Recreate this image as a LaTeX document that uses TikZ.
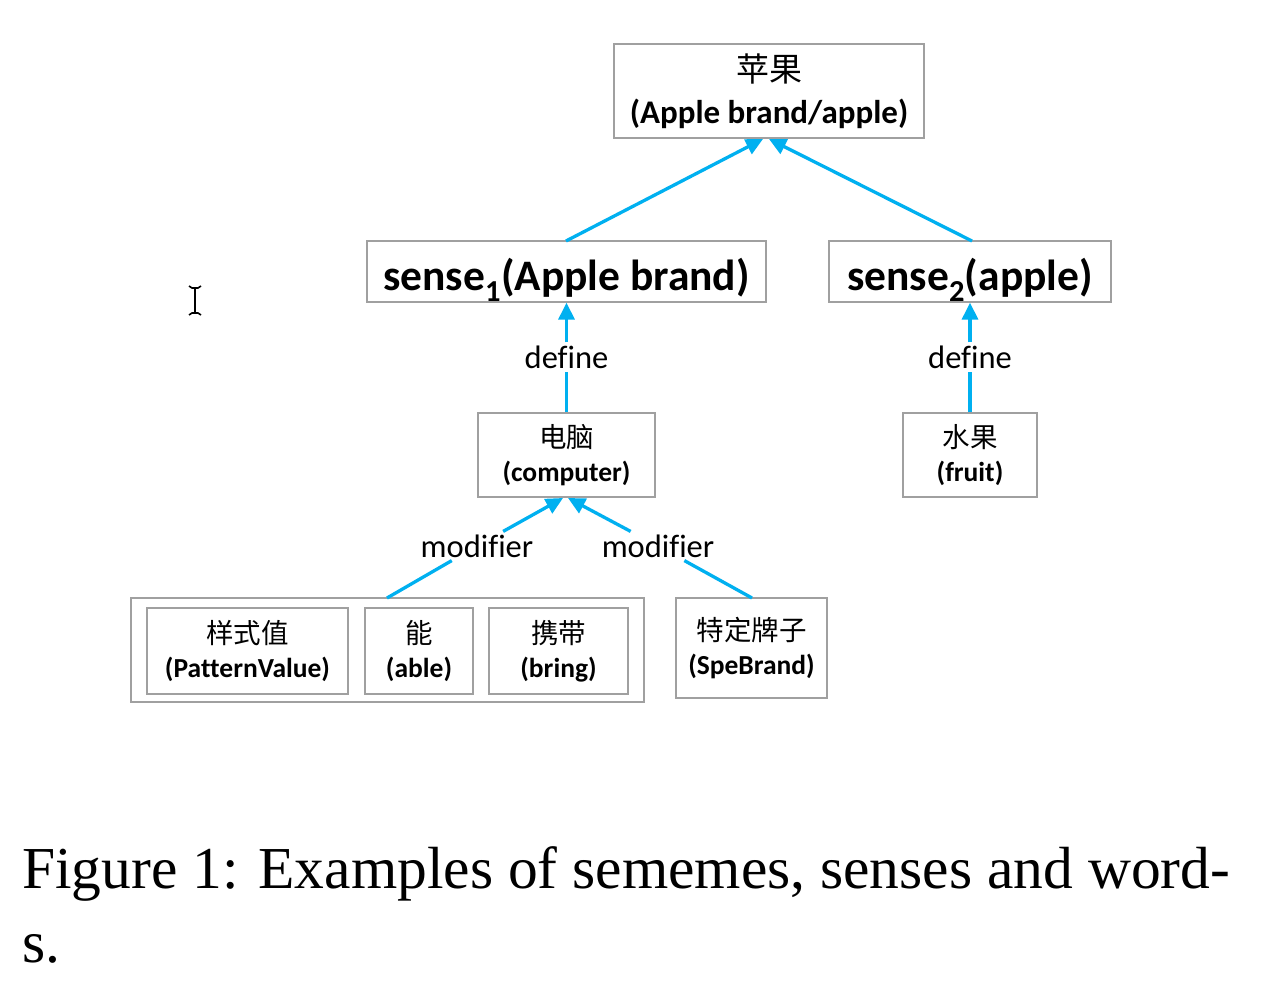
\documentclass[tikz,border=0pt]{standalone}
\usepackage{fontspec}
\setmainfont[Ligatures=CommonOff]{Carlito}
\newfontfamily\cjk{Noto Sans CJK SC}
\newfontfamily\capfont{Liberation Serif}
\usetikzlibrary{arrows.meta}

\definecolor{linkblue}{RGB}{0,176,240}
\definecolor{boxgray}{RGB}{160,160,160}

\tikzset{
  box/.style={draw=boxgray, line width=1.3pt, inner sep=0pt, align=center},
  link/.style={draw=linkblue, line width=3.3pt},
  tip/.style={-{Triangle[length=17pt,width=16pt]}},
  rel/.style={font=\fontsize{32.5}{36}\selectfont, inner sep=3pt}
}

\begin{document}
\begin{tikzpicture}[x=1pt, y=-1pt]

% page: 1280 x 1006 px, 1px = 1pt, y grows downwards
\path[use as bounding box, fill=white] (0,0) rectangle (1280,1006);

% ── WORD ────────────────────────────────────────────────────────────────
\node[box, minimum width=310pt, minimum height=94pt,
      font=\fontsize{33}{42}\selectfont\bfseries] (word) at (769, 91)
  {{\cjk\mdseries 苹果}\\(Apple brand/apple)};

% ── SENSES (text height/depth push the baseline to y=290) ──────────────
\node[box, minimum width=399pt, minimum height=61pt, text height=44pt, text depth=6pt,
      font=\fontsize{43.5}{48}\selectfont\bfseries] (sense1) at (566.5, 271.5)
  {sense\textsubscript{1}(Apple brand)};
\node[box, minimum width=282pt, minimum height=61pt, text height=44pt, text depth=6pt,
      font=\fontsize{43.5}{48}\selectfont\bfseries] (sense2) at (970, 271.5)
  {sense\textsubscript{2}(apple)};

% ── SEMEMES (x=567: under sense1; x=970: under sense2) ─────────────────
\node[box, minimum width=177pt, minimum height=84pt,
      font=\fontsize{27.5}{34}\selectfont\bfseries] (computer) at (566.5, 455)
  {{\cjk\mdseries 电脑}\\(computer)};
\node[box, minimum width=134pt, minimum height=84pt,
      font=\fontsize{27.5}{34}\selectfont\bfseries] (fruit) at (970, 455)
  {{\cjk\mdseries 水果}\\(fruit)};

% ── MODIFIERS ───────────────────────────────────────────────────────────
\node[box, minimum width=513pt, minimum height=104pt] (group) at (387.5, 650) {};
\node[box, minimum width=201pt, minimum height=86pt,
      font=\fontsize{27.5}{34}\selectfont\bfseries] (pattern) at (247.5, 651)
  {{\cjk\mdseries 样式值}\\(PatternValue)};
\node[box, minimum width=108pt, minimum height=86pt,
      font=\fontsize{27.5}{34}\selectfont\bfseries] (able) at (419, 651)
  {{\cjk\mdseries 能}\\(able)};
\node[box, minimum width=139pt, minimum height=86pt,
      font=\fontsize{27.5}{34}\selectfont\bfseries] (bring) at (558.5, 651)
  {{\cjk\mdseries 携带}\\(bring)};
\node[box, minimum width=151pt, minimum height=100pt,
      font=\fontsize{27.5}{34}\selectfont\bfseries] (spebrand) at (751.5, 648)
  {{\cjk\mdseries 特定牌子}\\(SpeBrand)};

% ── RELATION LABELS ─────────────────────────────────────────────────────
\node[rel] (def1) at (566.5, 357) {define};
\node[rel] (def2) at (970, 357) {define};
\node[rel] (mod1) at (477, 546) {modifier};
\node[rel] (mod2) at (658, 546) {modifier};

% ends of the slanted links
\coordinate (w1) at (763, 139);
\coordinate (w2) at (769, 139);
\coordinate (s1) at (566, 241);
\coordinate (s2) at (972, 241);
\coordinate (c1) at (563, 498);
\coordinate (c2) at (568, 498);
\coordinate (g1) at (387, 598);
\coordinate (p1) at (752, 598);

% ── LINKS ───────────────────────────────────────────────────────────────
\draw[link, tip] (s1) -- (w1);
\draw[link, tip] (s2) -- (w2);
\draw[link] (computer) -- (def1);
\draw[link, tip] (def1) -- (sense1);
\draw[link] (fruit) -- (def2);
\draw[link, tip] (def2) -- (sense2);
\draw[link] (g1) -- (mod1);
\draw[link, tip] (mod1) -- (c1);
\draw[link] (p1) -- (mod2);
\draw[link, tip] (mod2) -- (c2);

% ── CURSOR ──────────────────────────────────────────────────────────────
\draw[line width=2.2pt] (195, 288) -- (195, 313);
\draw[line width=1.6pt] (189, 286) -- (192, 288) -- (198, 288) -- (201, 286);
\draw[line width=1.6pt] (189, 315) -- (192, 313) -- (198, 313) -- (201, 315);

% ── CAPTION ─────────────────────────────────────────────────────────────
\node[anchor=base west, inner sep=0pt, font=\capfont\fontsize{59.5}{74}\selectfont]
  (cap1) at (22, 888) {Figure 1: Examples of sememes, senses and word-};
\node[anchor=base west, inner sep=0pt, font=\capfont\fontsize{59.5}{74}\selectfont]
  (cap2) at (22, 962) {s.};

\end{tikzpicture}
\end{document}
